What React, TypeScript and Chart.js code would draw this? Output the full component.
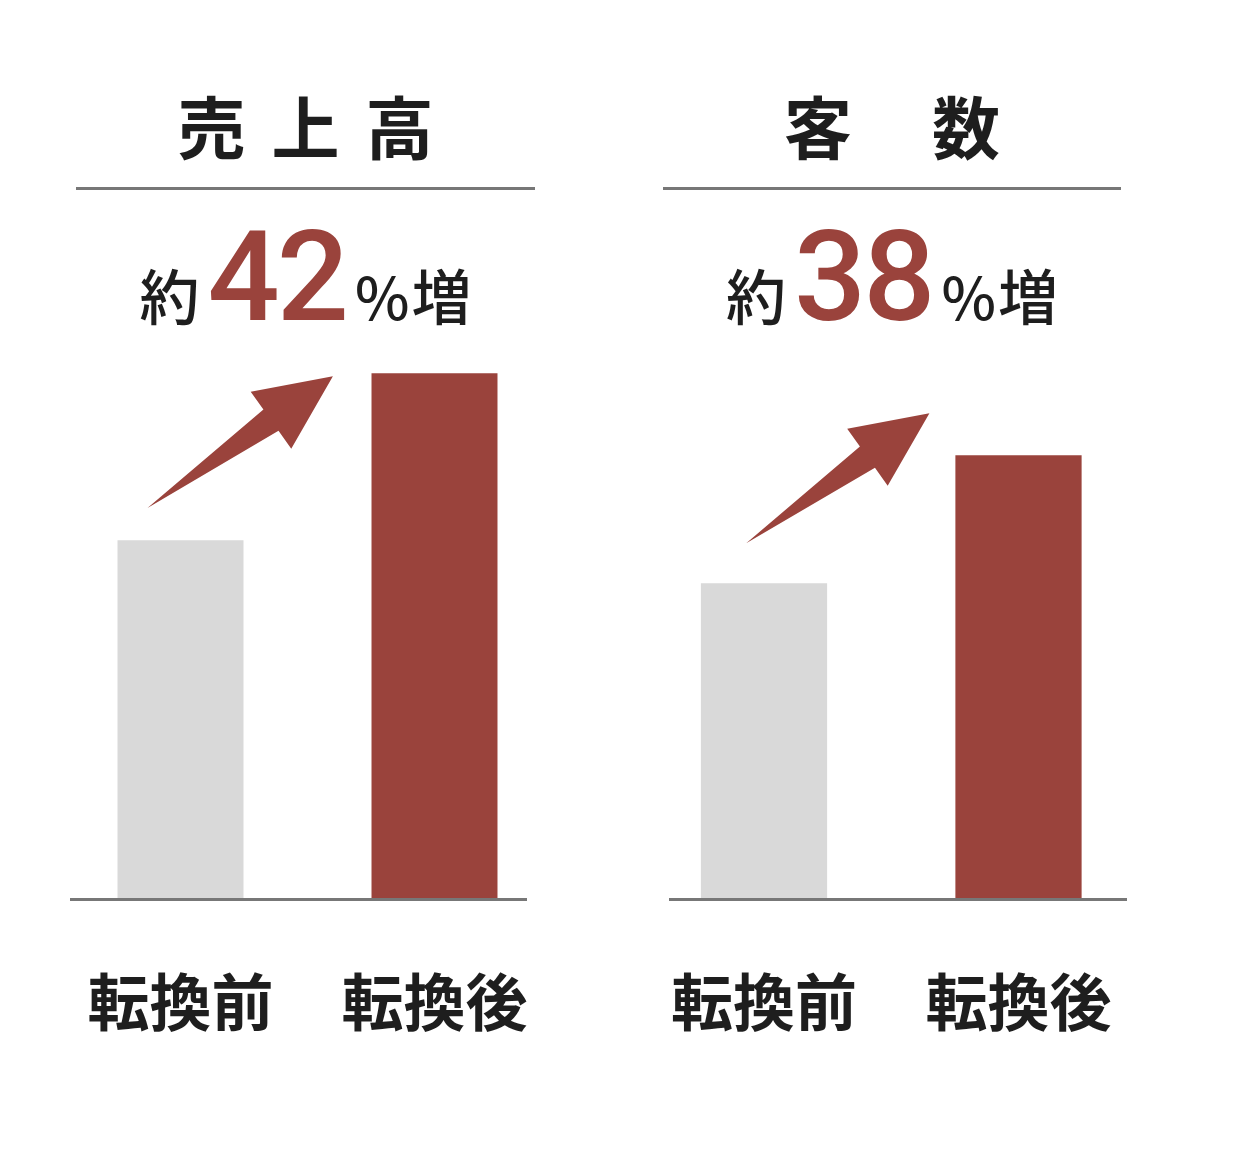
import React, { useEffect, useRef } from 'react';
import { Chart, registerables } from 'chart.js';

Chart.register(...registerables);

// categories (x axis)
const categories = ['転換前', '転換後'];

// index values, before = 100
const salesValues = [100, 146.5];
const customerValues = [100, 140.5];

// headline figures
const salesTitle = ['売', '上', '高'];
const customerTitle = ['客', '数'];
const salesIncrease = '42';
const customerIncrease = '38';

// arrow endpoints in chart space: [category index, value]
const salesArrow = [[-0.13, 109], [0.6, 145.7]];
const customerArrow = [[-0.07, 112.7], [0.65, 153.8]];

const RED = '#9a433c';
const GRAY = '#d9d9d9';
const TEXT = '#1e1e1e';
const RULE = '#777777';
const JP_FONT = '"Noto Sans CJK JP", "Noto Sans", sans-serif';

const overlayPlugin = {
  id: 'overlay',
  afterDatasetsDraw(chart: any, _args: any, opts: any) {
    const { ctx, chartArea, scales } = chart;
    const xs = scales.x;
    const ys = scales.y;
    const y0 = ys.getPixelForValue(0);

    ctx.save();
    // baseline
    ctx.strokeStyle = RULE;
    ctx.lineWidth = 3;
    ctx.beginPath();
    ctx.moveTo(chartArea.left + opts.insetLeft, y0);
    ctx.lineTo(chartArea.right - opts.insetRight, y0);
    ctx.stroke();

    // arrow
    const [from, to] = opts.arrow;
    const x1 = xs.getPixelForValue(from[0]);
    const y1 = ys.getPixelForValue(from[1]);
    const x2 = xs.getPixelForValue(to[0]);
    const y2 = ys.getPixelForValue(to[1]);
    const len = Math.hypot(x2 - x1, y2 - y1);
    const ux = (x2 - x1) / len;
    const uy = (y2 - y1) / len;
    const px = -uy;
    const py = ux;
    const pt = (u: number, v: number) => [x1 + ux * u + px * v, y1 + uy * u + py * v];
    const head = 76;
    const pts = [
      pt(0, 0),
      pt(len - head, -13),
      pt(len - head, -35),
      pt(len, 0),
      pt(len - head, 35),
      pt(len - head, 13),
    ];
    ctx.fillStyle = RED;
    ctx.beginPath();
    ctx.moveTo(pts[0][0], pts[0][1]);
    for (let i = 1; i < pts.length; i++) ctx.lineTo(pts[i][0], pts[i][1]);
    ctx.closePath();
    ctx.fill();
    ctx.restore();
  },
};

interface PanelProps {
  values: number[];
  yMax: number;
  arrow: number[][];
  left: number;
  padLeft: number;
  padRight: number;
  insetLeft: number;
  insetRight: number;
}

const BarPanel: React.FC<PanelProps> = ({ values, yMax, arrow, left, padLeft, padRight, insetLeft, insetRight }) => {
  const canvasRef = useRef<HTMLCanvasElement | null>(null);

  useEffect(() => {
    if (!canvasRef.current) return;
    const chart = new Chart(canvasRef.current, {
      type: 'bar',
      data: {
        labels: categories,
        datasets: [
          {
            data: values,
            backgroundColor: [GRAY, RED],
            borderWidth: 0,
            barPercentage: 0.496,
            categoryPercentage: 1,
          },
        ],
      },
      options: {
        animation: false,
        responsive: true,
        maintainAspectRatio: false,
        layout: {
          padding: { left: padLeft, right: padRight, top: 300, bottom: 112 },
        },
        plugins: {
          legend: { display: false },
          tooltip: { enabled: false },
          overlay: { arrow, insetLeft, insetRight },
        } as any,
        scales: {
          x: {
            grid: {
              display: true,
              drawOnChartArea: false,
              drawTicks: true,
              tickLength: 62,
              tickColor: 'rgba(0,0,0,0)',
            },
            border: { display: false },
            ticks: {
              color: TEXT,
              padding: 4,
              font: { family: JP_FONT, size: 62, weight: 'bold', lineHeight: 1.2 },
            },
          },
          y: {
            display: false,
            min: 0,
            max: yMax,
          },
        },
      },
      plugins: [overlayPlugin],
    });
    return () => chart.destroy();
  }, [values, yMax, arrow, padLeft, padRight, insetLeft, insetRight]);

  return (
    <div style={{ position: 'absolute', left, top: 0, width: 619, height: 1156 }}>
      <canvas ref={canvasRef} />
    </div>
  );
};

interface HeadProps {
  left: number;
  width: number;
  title: string[];
  gap: number;
  figure: string;
}

const Heading: React.FC<HeadProps> = ({ left, width, title, gap, figure }) => (
  <div style={{ position: 'absolute', left, top: 0, width }}>
    <div
      style={{
        position: 'absolute',
        left: 0,
        width,
        top: 91,
        display: 'flex',
        justifyContent: 'center',
        gap,
        fontFamily: JP_FONT,
        fontSize: 68,
        fontWeight: 600,
        lineHeight: '68px',
        color: TEXT,
      }}
    >
      {title.map((c) => (
        <span key={c}>{c}</span>
      ))}
    </div>
    <div style={{ position: 'absolute', left: 0, top: 187, width, height: 3, background: RULE }} />
    <div
      style={{
        position: 'absolute',
        left: 0,
        width,
        top: 207,
        display: 'flex',
        justifyContent: 'center',
        alignItems: 'baseline',
        color: TEXT,
        fontFamily: JP_FONT,
        fontWeight: 500,
        fontSize: 60,
        lineHeight: '140px',
      }}
    >
      <span>約</span>
      <span
        style={{
          fontFamily: 'Roboto, sans-serif',
          fontSize: 127,
          fontWeight: 500,
          color: RED,
          margin: '0 9px 0 8px',
          letterSpacing: -3,
        }}
      >
        {figure}
      </span>
      <span style={{ fontSize: 58, marginRight: 2 }}>%</span>
      <span>増</span>
    </div>
  </div>
);

const App: React.FC = () => {
  return (
    <div style={{ position: 'absolute', left: 0, top: 0, width: 1238, height: 1156, background: '#fff', overflow: 'hidden' }}>
      <Heading left={76} width={459} title={salesTitle} gap={26} figure={salesIncrease} />
      <Heading left={663} width={458} title={customerTitle} gap={80} figure={customerIncrease} />
      <BarPanel
        values={salesValues}
        yMax={166.9}
        arrow={salesArrow}
        left={0}
        padLeft={53.5}
        padRight={57.5}
        insetLeft={16.5}
        insetRight={34.5}
      />
      <BarPanel
        values={customerValues}
        yMax={189.6}
        arrow={customerArrow}
        left={619}
        padLeft={17.75}
        padRight={92.25}
        insetLeft={32.25}
        insetRight={18.75}
      />
    </div>
  );
};

export default App;
